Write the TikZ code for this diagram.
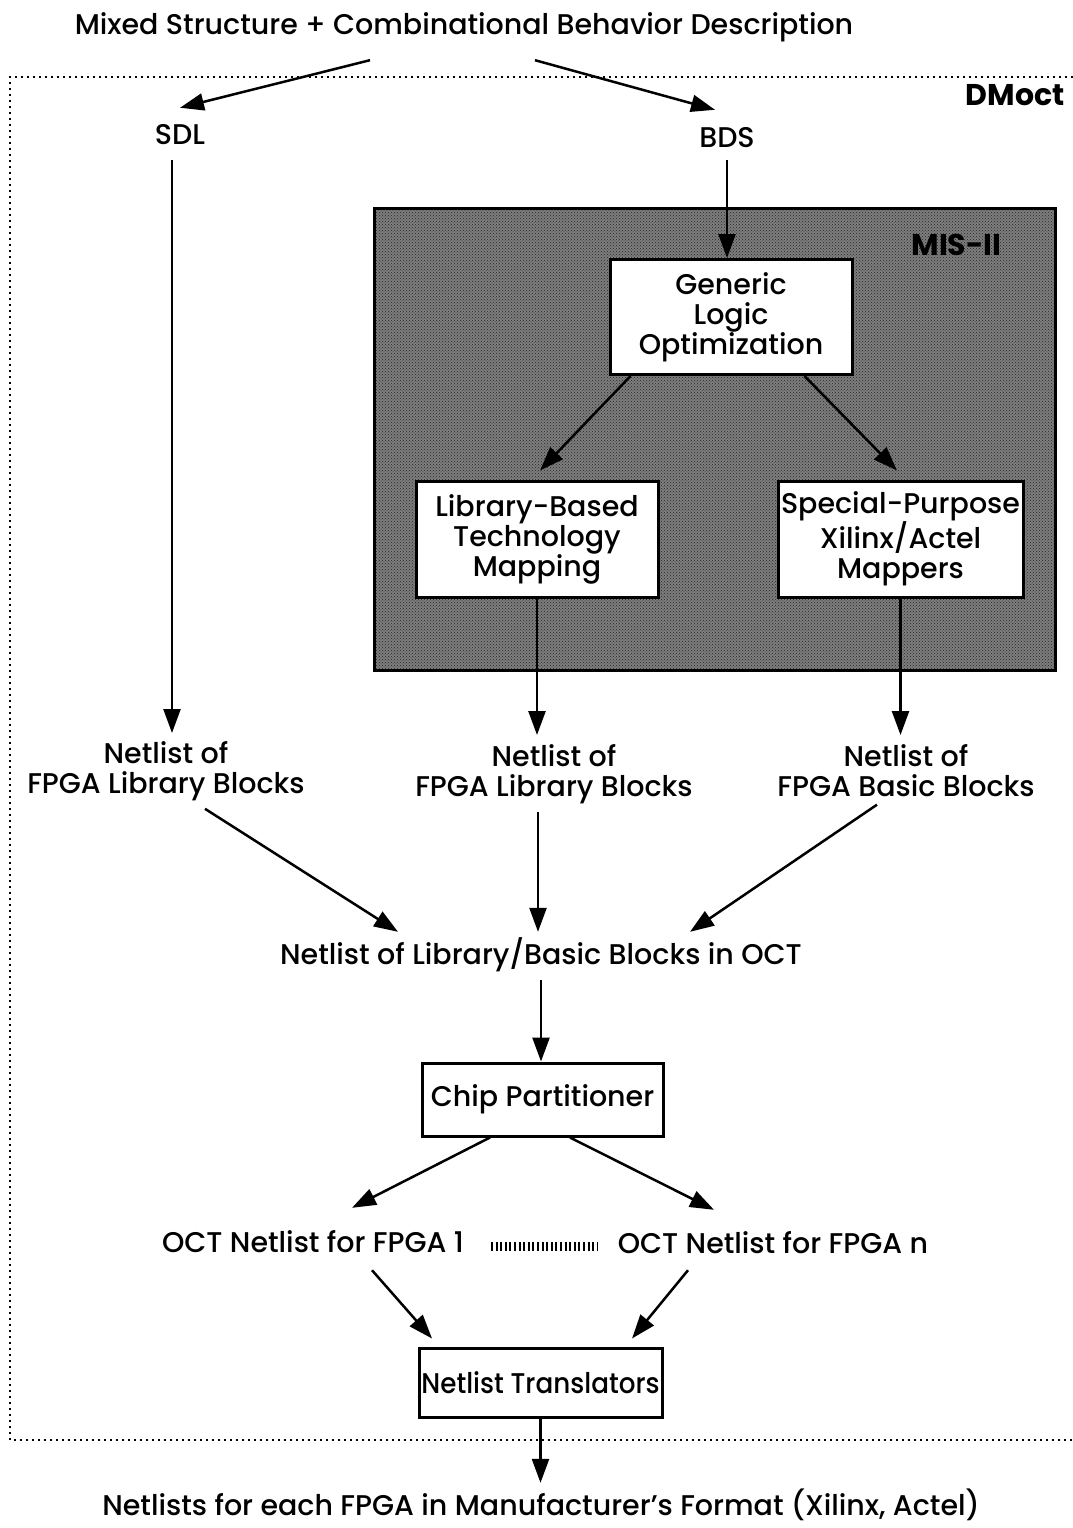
\documentclass[tikz,border=0pt]{standalone}
\usepackage{fontspec}
\setmainfont{Poppins Medium}[BoldFont=Poppins Bold]
\usetikzlibrary{arrows.meta,patterns}

\begin{document}
\begin{tikzpicture}[x=1pt,y=-1pt,
  every node/.style={font=\fontsize{28.5}{30}\selectfont},
  lbl/.style={inner sep=0pt, text height=21pt, text depth=6pt},
  multi/.style={inner sep=0pt, align=center, anchor=north},
  box/.style={draw, line width=3pt, fill=white, align=center, inner sep=0pt},
  arr/.style={line width=2.5pt, -{Triangle[length=24pt,width=17pt]}},
  frame/.style={line width=2.5pt, dash pattern=on 2pt off 4pt},
  tag/.style={anchor=east, font=\fontsize{30}{32}\selectfont\bfseries},
]
\useasboundingbox (0,0) rectangle (1073,1528);

% DMoct region (open to the right)
\draw[frame] (1073,77) -- (10,77) -- (10,1440) -- (1073,1440);
\node[tag] (dmoct) at (1068,95) {DMoct};

% MIS-II region with stippled fill
\path[fill={rgb,255:red,125;green,125;blue,125}] (374,208) rectangle (1055,670);
\path[pattern=crosshatch dots, pattern color=black!85] (374,208) rectangle (1055,670);
\draw[line width=3pt] (374,208) rectangle (1055,670);
\node[tag] (mis) at (1005,245) {MIS-II};

% text labels
\node[lbl] (title) at (464,27) {Mixed Structure + Combinational Behavior Description};
\node[lbl] (sdl) at (180,137) {SDL};
\node[lbl] (bds) at (727,140) {BDS};

% MIS-II boxes
\node[box, minimum width=242pt, minimum height=115pt] (gen) at (731,317) {Generic\\Logic\\Optimization};
\node[box, minimum width=242pt, minimum height=116pt] (lib) at (537,539) {Library-Based\\Technology\\Mapping};
\node[box, minimum width=245pt, minimum height=116pt] (spec) at (900.5,539) {Special-Purpose\\Xilinx/Actel\\Mappers};

% netlist labels
\node[multi] (netL) at (166,741) {Netlist of\\FPGA Library Blocks};
\node[multi] (netM) at (554,744) {Netlist of\\FPGA Library Blocks};
\node[multi] (netR) at (906,744) {Netlist of\\FPGA Basic Blocks};

\node[lbl] (oct) at (541,957) {Netlist of Library/Basic Blocks in OCT};
\node[box, minimum width=241pt, minimum height=73pt] (chip) at (542.5,1099.5) {Chip Partitioner};
\node[lbl] (f1) at (313,1245) {OCT Netlist for FPGA 1};
\node[lbl] (fn) at (773,1246) {OCT Netlist for FPGA n};
\node[box, minimum width=243pt, minimum height=69pt] (trans) at (540.5,1382.5) {\scalebox{0.92}[1]{Netlist Translators}};
\node[lbl] (final) at (541,1508) {Netlists for each FPGA in Manufacturer’s Format (Xilinx, Actel)};

% row of ticks between the FPGA netlists
\draw[line width=9pt, dash pattern=on 2pt off 2.6pt] (491,1246) -- (598,1246);

% connectors
\draw[arr] ([xshift=-94pt,yshift=-19.5pt]title.south) -- ([yshift=15.5pt]sdl.north);
\draw[arr] ([xshift=71pt,yshift=-19.5pt]title.south) -- ([xshift=-12pt,yshift=16.5pt]bds.north);
\draw[arr] ([xshift=-8pt,yshift=-9.5pt]sdl.south) -- ([xshift=6pt,yshift=8pt]netL.north);
\draw[arr] ([yshift=-6.5pt]bds.south) -- (bds.south |- gen.north);
\draw[arr] ([xshift=22pt]gen.south west) -- ([xshift=3pt,yshift=9pt]lib.north);
\draw[arr] ([xshift=-49pt]gen.south east) -- ([xshift=-3.5pt,yshift=9pt]spec.north);
\draw[arr] (lib.south) -- ([yshift=9pt]lib.south |- netM.north);
\draw[arr] (spec.south) -- ([yshift=9pt]spec.south |- netR.north);
\draw[arr] ([xshift=39pt,yshift=-8pt]netL.south) -- ([xshift=-143pt,yshift=11.5pt]oct.north);
\draw[arr] ([xshift=-16pt,yshift=-8pt]netM.south) -- ([xshift=-3pt,yshift=11.5pt]oct.north);
\draw[arr] ([xshift=-29pt,yshift=-8pt]netR.south) -- ([xshift=149pt,yshift=11.5pt]oct.north);
\draw[arr] ([yshift=-9.5pt]oct.south) -- (oct.south |- chip.north);
\draw[arr] ([xshift=-52.5pt]chip.south) -- ([xshift=39pt,yshift=23.5pt]f1.north);
\draw[arr] ([xshift=27.5pt]chip.south) -- ([xshift=-59pt,yshift=22.5pt]fn.north);
\draw[arr] ([xshift=59pt,yshift=-11.5pt]f1.south) -- ([xshift=-108.5pt,yshift=8pt]trans.north);
\draw[arr] ([xshift=-85pt,yshift=-10.5pt]fn.south) -- ([xshift=91.5pt,yshift=8pt]trans.north);
\draw[arr] (trans.south) -- ([yshift=11.5pt]trans.south |- final.north);
\end{tikzpicture}
\end{document}
